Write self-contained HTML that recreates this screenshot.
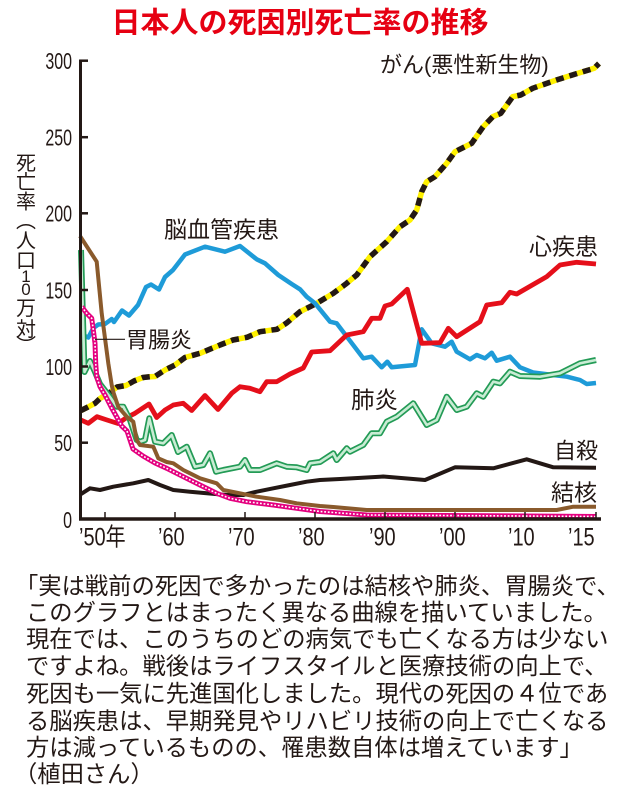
<!DOCTYPE html>
<html><head><meta charset="utf-8">
<style>
html,body{margin:0;padding:0;background:#fff;}
body{width:620px;height:812px;overflow:hidden;position:relative;}
svg{position:absolute;left:0;top:0;}
</style></head>
<body>
<svg width="620" height="812" viewBox="0 0 620 812" xmlns="http://www.w3.org/2000/svg" font-family="'Liberation Sans','Noto Sans CJK JP',sans-serif">
<!-- Title -->
<text x="300" y="32.5" text-anchor="middle" font-size="29" font-weight="bold" fill="#e60012">日本人の死因別死亡率の推移</text>

<!-- Y axis title (vertical) -->
<g font-size="20" fill="#231815" text-anchor="middle">
<text x="26" y="170">死</text>
<text x="26" y="189">亡</text>
<text x="26" y="208.5">率</text>
<text x="26" y="227.5">︵</text>
<text x="26" y="247.5">人</text>
<text x="26" y="267.5">口</text>
<text x="26" y="282" font-size="17">1</text>
<text x="26" y="295" font-size="17">0</text>
<text x="26" y="315">万</text>
<text x="26" y="336">対</text>
<text x="26" y="352.5">︶</text>
</g>

<!-- Y tick labels -->
<g font-size="23.5" fill="#231815" text-anchor="end">
<text transform="translate(72,69) scale(0.68,1)">300</text>
<text transform="translate(72,145.5) scale(0.68,1)">250</text>
<text transform="translate(72,221.6) scale(0.68,1)">200</text>
<text transform="translate(72,298.3) scale(0.68,1)">150</text>
<text transform="translate(72,374.8) scale(0.68,1)">100</text>
<text transform="translate(72,451) scale(0.68,1)">50</text>
<text transform="translate(72,528) scale(0.68,1)">0</text>
</g>

<!-- X tick labels -->
<g font-size="25" fill="#231815">
<text transform="translate(79,545.5) scale(0.8,1)">’50年</text>
<text transform="translate(158,545.5) scale(0.8,1)">’60</text>
<text transform="translate(228,545.5) scale(0.8,1)">’70</text>
<text transform="translate(298,545.5) scale(0.8,1)">’80</text>
<text transform="translate(369,545.5) scale(0.8,1)">’90</text>
<text transform="translate(439,545.5) scale(0.8,1)">’00</text>
<text transform="translate(508,545.5) scale(0.8,1)">’10</text>
<text transform="translate(568,545.5) scale(0.8,1)">’15</text>
</g>

<!-- Series -->
<g fill="none" stroke-linejoin="round" stroke-linecap="butt">
<!-- Cancer -->
<polyline stroke="#fff100" stroke-width="5.5" points="81,410.5 88,407 95,403.3 100,398.5 111,391.7 117,387 126,385.5 134,381 143,377.5 150,376.7 155,376.5 165,370 175,365 185,357.5 200,353.3 220,345 233,340 247,337.3 260,331.7 277,329.3 287,322.7 300,311.7 316.7,303.3 333.3,293.3 346.7,283.3 356.7,275 370,256.7 386.7,241.7 400,226.7 410,220 416.7,210 421.7,191.7 426.7,181.7 435,176.7 446.7,163.3 455,151.7 465,146.7 471.7,143.3 483,127 492.8,116.7 500.8,113.3 512.7,96.7 520.7,95 532.6,88.3 556.4,80 572.3,75 594.2,68.3 599,63.5"/>
<polyline stroke="#231815" stroke-width="5.5" stroke-dasharray="8 6" points="81,410.5 88,407 95,403.3 100,398.5 111,391.7 117,387 126,385.5 134,381 143,377.5 150,376.7 155,376.5 165,370 175,365 185,357.5 200,353.3 220,345 233,340 247,337.3 260,331.7 277,329.3 287,322.7 300,311.7 316.7,303.3 333.3,293.3 346.7,283.3 356.7,275 370,256.7 386.7,241.7 400,226.7 410,220 416.7,210 421.7,191.7 426.7,181.7 435,176.7 446.7,163.3 455,151.7 465,146.7 471.7,143.3 483,127 492.8,116.7 500.8,113.3 512.7,96.7 520.7,95 532.6,88.3 556.4,80 572.3,75 594.2,68.3 599,63.5"/>

<!-- Cerebrovascular (blue) -->
<polyline stroke="#1e9bd8" stroke-width="4.5" points="85,336 88.3,337.5 93.3,328 98.3,324.5 105,324 111.7,319 114,322 122,310.5 129,315.5 138,305 146,287 151,284.5 159,289.5 165,277 173,270 185,254.5 205,246.7 225,251.7 240,246 256.7,259.3 265,263.3 278.3,275 291.7,284 300,289.3 306.7,296.7 315,303.3 330,321.7 336.7,323.3 363.3,358.3 371.7,356.7 381.7,367.3 387.3,361.7 391.7,367.3 415,365 421.7,329.3 431.7,343.3 445,346.7 451.7,341.7 456.7,351.7 470,359.3 476.7,355 485,358.3 491.7,352.7 496.7,360.7 510,356.7 520,367.3 533,372.5 553,375 567,376.7 580,380 586.7,384 596,383"/>

<!-- Heart (red) -->
<polyline stroke="#e50f1a" stroke-width="4.8" points="81,420 88.3,423.3 97,416.7 107,420 118,423.5 126.7,417.5 135,413.3 149,404 156.7,417.5 165,410 173.3,405 183.3,403.3 191.7,410.5 205,395.5 218,409.5 231.7,393.3 240,386.7 250,388.3 260,391.7 266.7,381.7 276.7,381.7 290,374 303.3,368 311.7,352 330,350.7 346.7,335 363.3,331.7 371.7,318.3 380,318.3 385,306 391.7,304 407.3,289.3 421.7,343.3 440,342.7 448.3,328.3 456.7,336.7 480,321.7 486.7,305 501.7,302.7 510,292.3 516.7,294 546.7,276.7 560,265 576.7,262.3 596,264"/>

<!-- Pneumonia (green double) -->
<polyline stroke="#239b56" stroke-width="6" points="81,250 84.5,372 90,361 95,372 100,384 110,397 116.7,406.7 123.3,406.7 130,420 136.7,440 140,441.7 145,440 149.3,418.3 155,441.7 163.3,443.3 171.7,435 178,452 186.7,446.7 195,466.7 203.3,465 210,453.3 216,471.7 223.3,470 240,466.7 245,460 250,470 260,470 276.7,463.3 286.7,466.7 296.7,467.3 306.7,470 310,463.3 320,462 333.3,453.3 336.7,460 346.7,448.3 350,451.7 363.3,445 371.7,433.3 380,433.3 386.7,421.7 396.7,416.7 413.3,403.3 426.7,425 436.7,420 446.7,396.7 456.7,410 466.7,406.7 476.7,393.3 483.3,396.7 493.3,381.7 500,383.3 510,371.7 520,376 540,376.7 560,373.3 580,363.3 596,360"/>
<polyline stroke="#c9ecd4" stroke-width="2.6" points="81,250 84.5,372 90,361 95,372 100,384 110,397 116.7,406.7 123.3,406.7 130,420 136.7,440 140,441.7 145,440 149.3,418.3 155,441.7 163.3,443.3 171.7,435 178,452 186.7,446.7 195,466.7 203.3,465 210,453.3 216,471.7 223.3,470 240,466.7 245,460 250,470 260,470 276.7,463.3 286.7,466.7 296.7,467.3 306.7,470 310,463.3 320,462 333.3,453.3 336.7,460 346.7,448.3 350,451.7 363.3,445 371.7,433.3 380,433.3 386.7,421.7 396.7,416.7 413.3,403.3 426.7,425 436.7,420 446.7,396.7 456.7,410 466.7,406.7 476.7,393.3 483.3,396.7 493.3,381.7 500,383.3 510,371.7 520,376 540,376.7 560,373.3 580,363.3 596,360"/>

<!-- Suicide (black) -->
<polyline stroke="#231815" stroke-width="4" points="81,494 90,488.3 100,490 113.3,486.7 133.3,483.3 148.3,480 160,485 173.3,490 190,491.7 206.7,493.3 226.7,495 243.3,495 256.7,491.7 273.3,488.3 290,485 306.7,481.7 320,480 340,479 383.3,476.5 425,480 455,467.3 493.3,468.3 526.7,459.3 553.3,467.3 596,467.7"/>

<!-- Tuberculosis (brown) -->
<polyline stroke="#8a5a2c" stroke-width="4" points="80,236 96.7,261.7 101.7,313.3 108.3,363.3 111.7,385 113.3,392 118.3,407 126.7,416.7 133.3,421.7 136.7,440 140,445 153.3,446.7 158.3,458.3 166.7,462 173.3,463.3 183.3,470 190,473.3 200,478.3 216.7,483.3 223.3,490 240,493.3 256.7,496.7 280,500 296.7,503.3 320,506 333.3,507 366.7,510 556.7,510 573.3,506.7 596,506.7"/>

<!-- Gastroenteritis (magenta dotted) -->
<polyline stroke="#e4007f" stroke-width="5" points="81.7,306.7 86.7,313.3 91.7,318.3 93.3,330 95,343.3 95.7,363.3 96.7,376.7 100,386.7 105,395 111.7,408 121.7,426 127,431 133,449 143,456 155,463 166.7,468.3 183.3,476.7 200,485 216.7,493.3 230,498.3 246.7,501.7 273.3,505 296.7,508.3 320,511.5 366.7,515 596,516.5"/>
<polyline stroke="#ffffff" stroke-width="1.6" stroke-dasharray="1.8 1.8" points="81.7,306.7 86.7,313.3 91.7,318.3 93.3,330 95,343.3 95.7,363.3 96.7,376.7 100,386.7 105,395 111.7,408 121.7,426 127,431 133,449 143,456 155,463 166.7,468.3 183.3,476.7 200,485 216.7,493.3 230,498.3 246.7,501.7 273.3,505 296.7,508.3 320,511.5 366.7,515 596,516.5"/>
</g>

<!-- Axes -->
<g stroke="#231815" fill="none">
<line x1="80.5" y1="59.5" x2="80.5" y2="520" stroke-width="3"/>
<line x1="79" y1="519" x2="601" y2="519" stroke-width="3.5"/>
<g stroke-width="2.5">
<line x1="80" y1="60.7" x2="88" y2="60.7"/>
<line x1="80" y1="137.2" x2="88" y2="137.2"/>
<line x1="80" y1="213.3" x2="88" y2="213.3"/>
<line x1="80" y1="290" x2="88" y2="290"/>
<line x1="80" y1="366.5" x2="88" y2="366.5"/>
<line x1="80" y1="442.7" x2="88" y2="442.7"/>
</g>
<g stroke-width="1.5">
<line x1="105" y1="512" x2="105" y2="519"/>
<line x1="175" y1="512" x2="175" y2="519"/>
<line x1="245" y1="512" x2="245" y2="519"/>
<line x1="315" y1="512" x2="315" y2="519"/>
<line x1="385" y1="512" x2="385" y2="519"/>
<line x1="455" y1="512" x2="455" y2="519"/>
<line x1="525" y1="512" x2="525" y2="519"/>
<line x1="596" y1="512" x2="596" y2="519"/>
</g>
<!-- leader line -->
<line x1="95" y1="339.3" x2="125" y2="339.3" stroke-width="1.2"/>
</g>

<!-- Series labels -->
<g fill="#231815">
<text x="380" y="72.5" font-size="22">がん(悪性新生物)</text>
<text x="164" y="237.5" font-size="23">脳血管疾患</text>
<text x="126" y="347.7" font-size="22">胃腸炎</text>
<text x="529" y="254.5" font-size="23">心疾患</text>
<text x="351" y="407.8" font-size="23.5">肺炎</text>
<text x="554" y="458.5" font-size="22">自殺</text>
<text x="551" y="500.6" font-size="23">結核</text>
</g>

<!-- Quote text -->
<g fill="#231815" font-size="23.3">
<text x="15" y="593.9">「実は戦前の死因で多かったのは結核や肺炎、胃腸炎で、</text>
<text x="26" y="620.6">このグラフとはまったく異なる曲線を描いていました。</text>
<text x="26" y="647.2">現在では、このうちのどの病気でも亡くなる方は少ない</text>
<text x="26" y="673.9">ですよね。戦後はライフスタイルと医療技術の向上で、</text>
<text x="26" y="701.6">死因も一気に先進国化しました。現代の死因の４位であ</text>
<text x="26" y="728.9">る脳疾患は、早期発見やリハビリ技術の向上で亡くなる</text>
<text x="26" y="755.6">方は減っているものの、罹患数自体は増えています」</text>
<text x="14" y="782.2">（植田さん）</text>
</g>
</svg>
</body></html>
